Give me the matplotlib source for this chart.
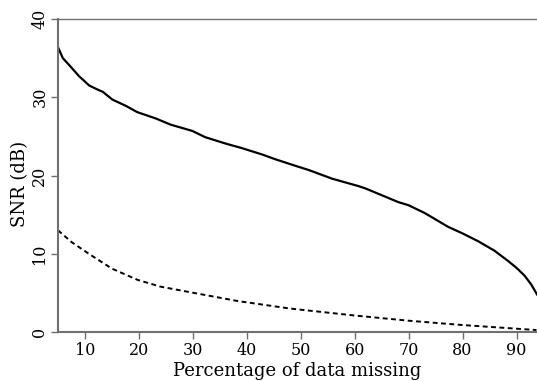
import matplotlib
matplotlib.use("Agg")
import matplotlib.pyplot as plt

# Solid curve (upper)
pct_solid = [5.0, 5.9, 7.1, 8.9, 10.8, 12.3, 13.3, 15.1, 17.6, 19.7, 23.1,
             25.9, 29.9, 32.3, 36.0, 39.1, 42.8, 45.2, 49.2, 51.5, 55.8,
             60.7, 62.0, 68.1, 70.0, 73.0, 77.3, 80.0, 82.9, 85.9, 88.4,
             90.0, 91.5, 92.7, 93.3, 93.8]
snr_solid = [36.4, 35.0, 34.1, 32.7, 31.5, 31.0, 30.7, 29.7, 28.9, 28.1, 27.3,
             26.5, 25.7, 24.9, 24.1, 23.5, 22.7, 22.1, 21.2, 20.7, 19.6,
             18.65, 18.35, 16.6, 16.2, 15.2, 13.45, 12.6, 11.6, 10.4, 9.1,
             8.2, 7.2, 6.1, 5.4, 4.8]

# Dashed curve (lower)
pct_dash = [5.0, 7.5, 10.6, 15.0, 19.8, 24.0, 29.0, 38.3, 48.0, 60.1, 69.9,
            79.8, 93.7]
snr_dash = [13.0, 11.5, 10.05, 8.1, 6.65, 5.8, 5.15, 3.96, 3.0, 2.1, 1.45,
            0.9, 0.25]

x_ticks = [10, 20, 30, 40, 50, 60, 70, 80, 90]
y_ticks = [0, 10, 20, 30, 40]

plt.rcParams["font.family"] = ["DejaVu Serif"]

fig = plt.figure(figsize=(5.37, 3.81), dpi=100)
ax = fig.add_axes([0.108, 0.1286, 0.892, 0.8214])

ax.plot(pct_solid, snr_solid, color="black", linewidth=1.6)
ax.plot(pct_dash, snr_dash, color="black", linewidth=1.4,
        linestyle=(0, (2.5, 1.8)))

ax.set_xlim(5, 93.8)
ax.set_ylim(0, 40)
ax.set_xticks(x_ticks)
ax.set_yticks(y_ticks)

# Axis frame: gray left/bottom/top, no right
for side in ["left", "bottom", "top"]:
    ax.spines[side].set_color("#707070")
ax.spines["left"].set_linewidth(1.5)
ax.spines["bottom"].set_linewidth(1.5)
ax.spines["top"].set_linewidth(1.0)
ax.spines["right"].set_visible(False)

ax.tick_params(axis="both", labelcolor="black", color="#707070",
               labelsize=11.5, length=5, width=1, direction="out", pad=2)
for lbl in ax.get_yticklabels():
    lbl.set_rotation(90)
    lbl.set_va("center")

ax.set_xlabel("Percentage of data missing", fontsize=13, labelpad=2)
ax.set_ylabel("SNR (dB)", fontsize=13)
ax.yaxis.set_label_coords(-0.06, 0.472)

fig.savefig("out.png", dpi=100)
